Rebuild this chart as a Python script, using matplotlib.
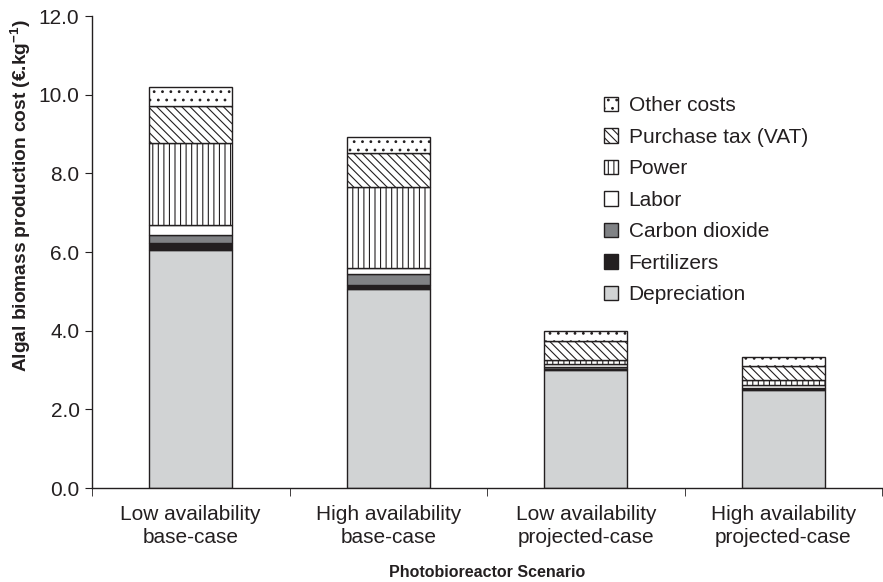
import matplotlib
matplotlib.use("Agg")
import matplotlib.pyplot as plt
import numpy as np

plt.rcParams['font.family'] = ['Liberation Sans', 'DejaVu Sans']
plt.rcParams['hatch.linewidth'] = 0.8
plt.rcParams['mathtext.fontset'] = 'custom'
plt.rcParams['mathtext.rm'] = 'Liberation Sans'
plt.rcParams['mathtext.bf'] = 'Liberation Sans:bold'

categories = ["Low availability\nbase-case", "High availability\nbase-case",
              "Low availability\nprojected-case", "High availability\nprojected-case"]
components = ["Depreciation", "Fertilizers", "Carbon dioxide", "Labor", "Power",
              "Purchase tax (VAT)", "Other costs"]
depreciation = [6.05, 5.06, 3.00, 2.50]
fertilizers = [0.18, 0.10, 0.02, 0.02]
carbon_dioxide = [0.20, 0.28, 0.05, 0.02]
labor = [0.26, 0.15, 0.08, 0.08]
power = [2.08, 2.06, 0.10, 0.13]
vat = [0.94, 0.87, 0.49, 0.35]
other = [0.49, 0.40, 0.25, 0.23]
yticks = [0, 2, 4, 6, 8, 10, 12]

series = [depreciation, fertilizers, carbon_dioxide, labor, power, vat, other]
styles = [
    dict(color="#d1d3d4", hatch=None),
    dict(color="#231f20", hatch=None),
    dict(color="#808285", hatch=None),
    dict(color="white", hatch=None),
    dict(color="white", hatch="|||"),
    dict(color="white", hatch="\\\\\\\\"),
    dict(color="white", hatch=".."),
]

fig = plt.figure(figsize=(8.83, 5.82), dpi=100)
ax = fig.add_axes([92/883, 1-488/582, (882-92)/883, (488-16)/582])

x = np.arange(len(categories))
bottom = np.zeros(len(categories))
handles = []
for name, vals, st in zip(components, series, styles):
    b = ax.bar(x, vals, width=0.42, bottom=bottom, color=st["color"],
               hatch=st["hatch"], edgecolor="#231f20", linewidth=1.0, label=name)
    handles.append(b)
    bottom += np.array(vals)

ax.set_xlim(-0.5, 3.5)
ax.set_ylim(0, 12)
ax.set_yticks(yticks)
ax.set_yticklabels([f"{v:.1f}" for v in yticks], fontsize=15, color="#231f20")
ax.set_xticks(x)
ax.set_xticklabels(categories, fontsize=15, color="#231f20", linespacing=1.3)
ax.tick_params(axis='x', length=0, pad=12)
ax.set_xticks(np.arange(-0.5, 3.6, 1.0), minor=True)
ax.tick_params(axis='x', which='minor', length=6, direction='out', color="#231f20")
ax.tick_params(axis='y', length=5, direction='out', color="#231f20", pad=4)
for s in ["top", "right"]:
    ax.spines[s].set_visible(False)
for s in ["left", "bottom"]:
    ax.spines[s].set_color("#231f20")
    ax.spines[s].set_linewidth(1.0)

ax.set_ylabel(r"Algal biomass production cost (€.kg$^{\mathbf{-1}}$)", fontsize=13.8,
              fontweight="bold", color="#231f20")
ax.yaxis.set_label_coords(-0.0747, 0.62)
ax.set_xlabel("Photobioreactor Scenario", fontsize=11.5, fontweight="bold",
              color="#231f20", labelpad=13)

leg = ax.legend(handles[::-1], components[::-1], loc="upper left",
                bbox_to_anchor=(0.624, 0.87), frameon=False, fontsize=15,
                handlelength=0.7, handleheight=0.7, handletextpad=0.5,
                labelspacing=0.6, labelcolor="#231f20")

fig.savefig("out.png", dpi=100)
